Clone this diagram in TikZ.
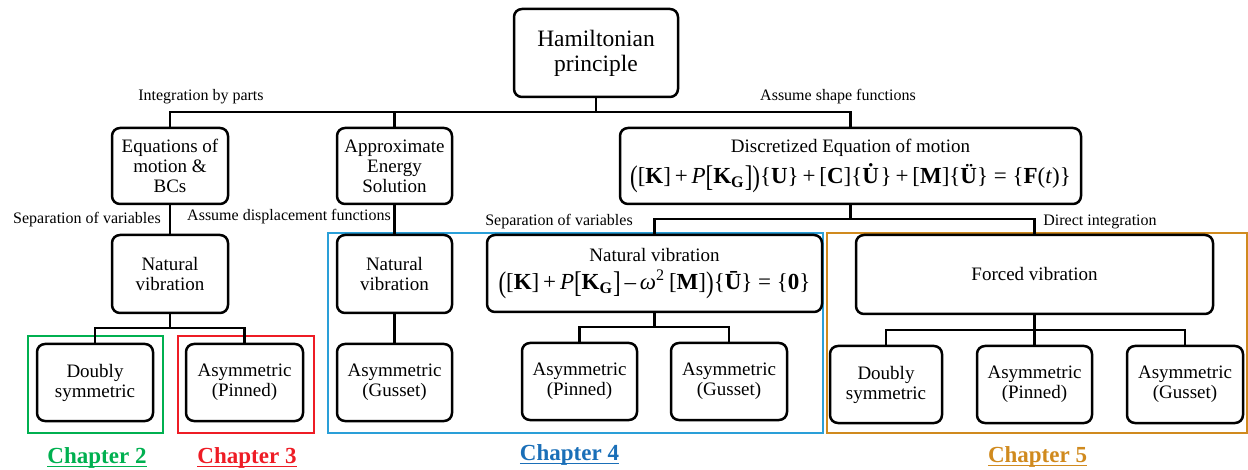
\documentclass[tikz,border=0pt]{standalone}
\usepackage{fontspec}
\setmainfont{Liberation Serif}
\usepackage{graphicx}
\definecolor{cgreen}{HTML}{00B050}
\definecolor{cred}{HTML}{EE1C25}
\definecolor{cblue}{HTML}{2A9FD8}
\definecolor{cbluetext}{HTML}{1A6FB8}
\definecolor{corange}{HTML}{D08A1E}
\newcommand\bigpar[1]{\raisebox{-0.12em}{\scalebox{1}[1.3]{#1}}}
\newcommand\pl{\,+\,}
\newcommand\chapul[1]{\setbox0\hbox{#1}\rlap{\rule[-1.6pt]{\wd0}{0.6pt}}\box0}
\begin{document}
\begin{tikzpicture}[x=0.5pt,y=-0.5pt,
  box/.style={draw,line width=1.25pt,rounded corners=4pt,align=center,inner sep=1pt,
    font=\fontsize{9.5}{10}\selectfont},
  conn/.style={line width=1.25pt},
  lbl/.style={font=\fontsize{8}{9}\selectfont,inner sep=0pt},
  chap/.style={font=\fontsize{11.5}{12}\selectfont\bfseries,inner sep=0pt},
  frame/.style={line width=1.25pt}]
\useasboundingbox (0,0) rectangle (1248,470);
% chapter frames
\draw[frame,cgreen] (28,336) rectangle (163,433);
\draw[frame,cred] (178,336) rectangle (314,433);
\draw[frame,cblue] (328,233) rectangle (823,433);
\draw[frame,corange] (827,233) rectangle (1247,433);
% boxes
\node[box,minimum width=82pt,minimum height=44pt,font=\fontsize{11.75}{12.5}\selectfont] (ham) at (596,53) {Hamiltonian\\principle};
\node[box,minimum width=58pt,minimum height=38pt] (eqm) at (170,166) {Equations of\\motion \&\\BCs};
\node[box,minimum width=57.5pt,minimum height=38pt] (apx) at (394.5,166) {Approximate\\Energy\\Solution};
\node[box,minimum width=230.5pt,minimum height=38pt] (dis) at (850.5,166) {Discretized Equation of motion\\[2.5pt]
 {\fontsize{11.5}{12}\selectfont\bigpar{(}[\textbf{K}]\pl\textit{P}\bigpar{[}\textbf{K}\textsubscript{\textbf{G}}\bigpar{]}\bigpar{)}\{\textbf{U}\}\pl[\textbf{C}]\{\textbf{\.{U}}\}\pl[\textbf{M}]\{\textbf{\"{U}}\} = \{\textbf{F}(\textit{t})\}}};
\node[box,minimum width=58pt,minimum height=39pt] (nv1) at (170,274) {Natural\\vibration};
\node[box,minimum width=58pt,minimum height=38.5pt] (ds1) at (95,382.5) {Doubly\\symmetric};
\node[box,minimum width=58.5pt,minimum height=38.5pt] (ap1) at (244.5,382.5) {Asymmetric\\(Pinned)};
\node[box,minimum width=57.5pt,minimum height=39pt] (nv2) at (394.5,274) {Natural\\vibration};
\node[box,minimum width=57.5pt,minimum height=38.5pt] (ag2) at (394.5,382.5) {Asymmetric\\(Gusset)};
\node[box,minimum width=167.5pt,minimum height=38.5pt] (nve) at (654.5,273.5) {Natural vibration\\[4pt]
 {\fontsize{11.5}{12}\selectfont\bigpar{(}[\textbf{K}]\pl\textit{P}\bigpar{[}\textbf{K}\textsubscript{\textbf{G}}\bigpar{]}\,–\,\textit{ω}\textsuperscript{2}\,[\textbf{M}]\bigpar{)}\{\textbf{\={U}}\} = \{\textbf{0}\}}};
\node[box,minimum width=57.5pt,minimum height=38.5pt] (ap2) at (579.5,381.5) {Asymmetric\\(Pinned)};
\node[box,minimum width=58pt,minimum height=38.5pt] (ag3) at (729,381.5) {Asymmetric\\(Gusset)};
\node[box,minimum width=178.5pt,minimum height=39.5pt] (fv) at (1034.5,274.5) {Forced vibration};
\node[box,minimum width=56pt,minimum height=38.5pt] (ds2) at (886,384.5) {Doubly\\symmetric};
\node[box,minimum width=57.5pt,minimum height=38.5pt] (ap3) at (1034.5,384.5) {Asymmetric\\(Pinned)};
\node[box,minimum width=58pt,minimum height=38.5pt] (ag4) at (1185,384.5) {Asymmetric\\(Gusset)};
% branch points
\coordinate (b1) at (596,112);
\coordinate (b2) at (170,328);
\coordinate (b3) at (850.5,219);
\coordinate (b4) at (654.5,327);
\coordinate (b5) at (1034.5,330);
% connectors
\draw[conn] (ham.south) -- (b1);
\draw[conn] (eqm.north) |- (b1) -| (dis.north);
\draw[conn] (apx.north) -- (apx.north |- b1);
\draw[conn] (eqm.south) -- (nv1.north);
\draw[conn] (apx.south) -- (nv2.north);
\draw[conn] (nv1.south) -- (b2);
\draw[conn] (ds1.north) |- (b2) -| (ap1.north);
\draw[conn] (nv2.south) -- (ag2.north);
\draw[conn] (dis.south) -- (b3);
\draw[conn] (nve.north) |- (b3) -| (fv.north);
\draw[conn] (nve.south) -- (b4);
\draw[conn] (ap2.north) |- (b4) -| (ag3.north);
\draw[conn] (fv.south) -- (b5);
\draw[conn] (ds2.north) |- (b5) -| (ag4.north);
\draw[conn] (ap3.north) -- (b5);
% labels
\node[lbl] (l1) at (201,97) {Integration by parts};
\node[lbl] (l2) at (838,97) {Assume shape functions};
\node[lbl] (l3) at (87,220) {Separation of variables};
\node[lbl] (l4) at (289,217) {Assume displacement functions};
\node[lbl] (l5) at (559,222) {Separation of variables};
\node[lbl] (l6) at (1100,222) {Direct integration};
% chapters
\node[chap,text=cgreen] (c2) at (97,458) {\chapul{Chapter 2}};
\node[chap,text=cred] (c3) at (247,458) {\chapul{Chapter 3}};
\node[chap,text=cbluetext] (c4) at (569.5,455) {\chapul{Chapter 4}};
\node[chap,text=corange] (c5) at (1037.5,457) {\chapul{Chapter 5}};
\end{tikzpicture}
\end{document}
